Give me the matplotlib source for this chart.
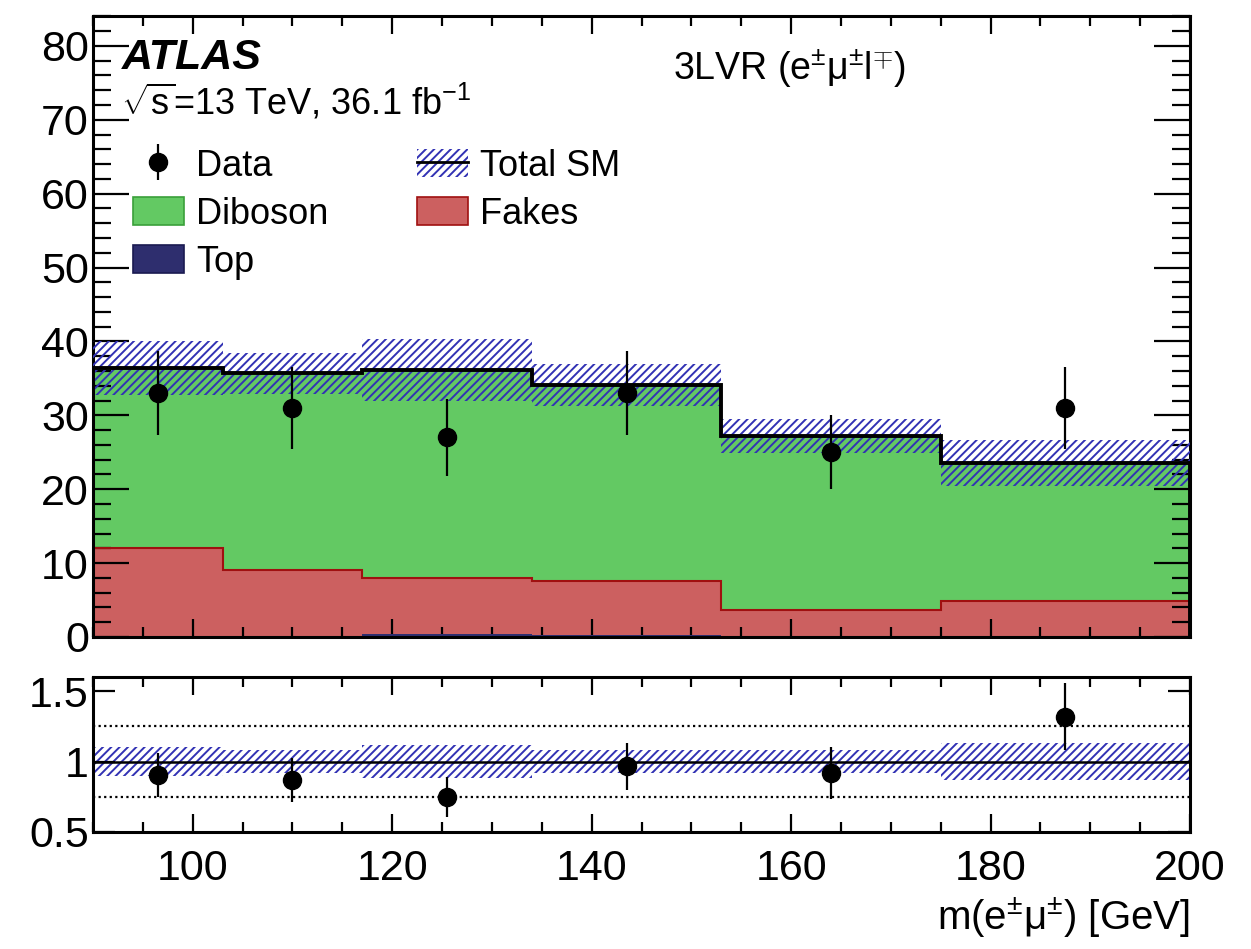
import numpy as np
import matplotlib
matplotlib.use("Agg")
import matplotlib.pyplot as plt
from matplotlib.patches import Patch
from matplotlib.lines import Line2D
from matplotlib.ticker import MultipleLocator

plt.rcParams['font.family'] = ['Liberation Sans', 'DejaVu Sans']
plt.rcParams['mathtext.fontset'] = 'custom'
plt.rcParams['mathtext.rm'] = 'Liberation Sans'
plt.rcParams['mathtext.it'] = 'Liberation Sans:italic'
plt.rcParams['mathtext.bf'] = 'Liberation Sans:bold'
plt.rcParams['hatch.linewidth'] = 1.4

# bins in m(e mu) [GeV]
edges = np.array([90, 103, 117, 134, 153, 175, 200])
top = np.array([0.1, 0.1, 0.4, 0.3, 0.1, 0.1])
fakes = np.array([11.9, 8.9, 7.6, 7.3, 3.6, 4.8])
diboson = np.array([24.4, 26.7, 28.1, 26.5, 23.5, 18.6])
sm_err = np.array([3.7, 2.8, 4.2, 2.8, 2.3, 3.1])
data = np.array([33, 31, 27, 33, 25, 31])
data_err = np.array([5.7, 5.6, 5.2, 5.7, 5.0, 5.6])

c_dib = '#63c963'
c_fake = '#cc6060'
c_top = '#2e2e6e'
c_hatch = '#3232b4'

centers = 0.5 * (edges[1:] + edges[:-1])
total = top + fakes + diboson

fig = plt.figure(figsize=(12.51, 9.49), dpi=100)
ax = fig.add_axes([0.0743, 0.3288, 0.877, 0.654])
axr = fig.add_axes([0.0743, 0.1233, 0.877, 0.1633])

# stack
ax.stairs(top + fakes + diboson, edges, baseline=top + fakes, fill=True,
          color=c_dib, zorder=1)
ax.stairs(top + fakes, edges, baseline=top, fill=True, color=c_fake, zorder=1)
ax.stairs(top + fakes, edges, color='#a01010', lw=1.5, zorder=2)
ax.stairs(top, edges, fill=True, color=c_top, zorder=2)
ax.stairs(total + sm_err, edges, baseline=total - sm_err, fill=True,
          facecolor='none', edgecolor=c_hatch, hatch='////', lw=0, zorder=3)
ax.stairs(total, edges, color='black', lw=2.8, zorder=4)
eb = ax.errorbar(centers, data, yerr=data_err, fmt='o', color='black',
                 ms=13, elinewidth=1.6, capsize=0, zorder=5)

ax.set_xlim(90, 200)
ax.set_ylim(0, 84)

# ratio
ratio = data / total
ratio_err = data_err / total
axr.stairs(1 + sm_err / total, edges, baseline=1 - sm_err / total, fill=True,
           facecolor='none', edgecolor=c_hatch, hatch='////', lw=0, zorder=1)
axr.axhline(1, color='black', lw=1.8, zorder=2)
for yv in (0.75, 1.25):
    axr.axhline(yv, color='black', lw=1.6, ls=(0, (1, 1.5)), zorder=2)
axr.errorbar(centers, ratio, yerr=ratio_err, fmt='o', color='black',
             ms=13, elinewidth=1.6, capsize=0, zorder=5)
axr.set_xlim(90, 200)
axr.set_ylim(0.5, 1.6)

for a in (ax, axr):
    for s in a.spines.values():
        s.set_linewidth(2.2)
    a.xaxis.set_major_locator(MultipleLocator(20))
    a.xaxis.set_minor_locator(MultipleLocator(5))
    a.tick_params(which='both', direction='in', top=True, right=True,
                  labelsize=31, width=1.6, pad=3)
    a.tick_params(axis='x', which='major', length=13)
    a.tick_params(axis='x', which='minor', length=7)

ax.yaxis.set_major_locator(MultipleLocator(10))
ax.yaxis.set_minor_locator(MultipleLocator(2))
ax.tick_params(axis='y', which='major', length=26)
ax.tick_params(axis='y', which='minor', length=13)
ax.tick_params(axis='x', labelbottom=False)

axr.set_yticks([0.5, 1, 1.5])
axr.set_yticklabels(['0.5', '1', '1.5'])
axr.yaxis.set_minor_locator(MultipleLocator(0.5))
axr.tick_params(axis='y', which='major', length=16)
axr.tick_params(axis='x', which='major', pad=12)

# labels
ax.text(0.026, 0.965, 'ATLAS', transform=ax.transAxes, fontsize=31,
        fontweight='bold', fontstyle='italic', va='top', ha='left')
ax.text(0.026, 0.862, r'$\sqrt{\mathrm{s}}$=13 TeV, 36.1 fb$^{-1}$',
        transform=ax.transAxes, fontsize=26, va='center', ha='left')
ax.text(0.635, 0.915, r'3LVR (e$^{\pm}$μ$^{\pm}$l$^{\mp}$)',
        transform=ax.transAxes, fontsize=27, va='center', ha='center')

h_sm = (Patch(facecolor='none', edgecolor=c_hatch, hatch='////', lw=0),
        Line2D([], [], color='black', lw=2))
handles = [eb,
           Patch(facecolor=c_dib, edgecolor='#3aa03a', lw=1.2),
           Patch(facecolor=c_top, edgecolor='#1a1a50', lw=1.2),
           h_sm,
           Patch(facecolor=c_fake, edgecolor='#a01010', lw=1.2)]
labels = ['Data', 'Diboson', 'Top', 'Total SM', 'Fakes']
ax.legend(handles, labels, ncol=2, loc='upper left',
          bbox_to_anchor=(0.0365, 0.787), fontsize=26, frameon=False,
          borderpad=0, borderaxespad=0, handlelength=1.4, handleheight=0.8,
          handletextpad=0.35, columnspacing=2.45, labelspacing=0.36)

fig.text(1190 / 1251, 0.033, r'm(e$^{\pm}$μ$^{\pm}$) [GeV]', fontsize=29,
         ha='right', va='center')

fig.savefig('out.png', dpi=100)
